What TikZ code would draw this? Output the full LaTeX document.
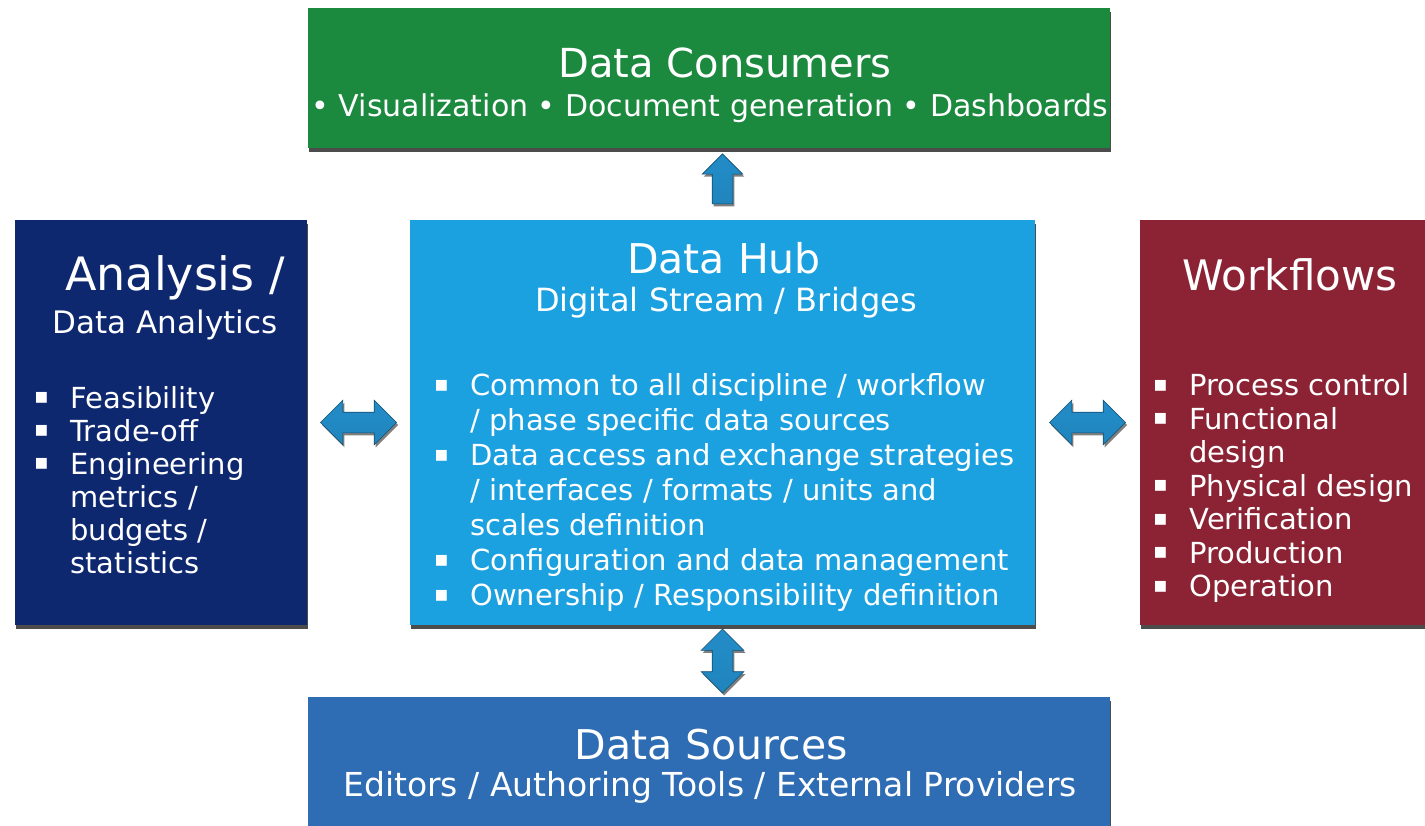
\documentclass[tikz,border=0pt]{standalone}
\usepackage{fontspec}
\setmainfont{DejaVu Sans}
\usepackage{graphicx}
\usetikzlibrary{calc,shapes.arrows,shadows}

\definecolor{consgreen}{RGB}{27,137,62}
\definecolor{hubblue}{RGB}{27,160,224}
\definecolor{ananavy}{RGB}{14,40,112}
\definecolor{wfred}{RGB}{139,35,52}
\definecolor{srcblue}{RGB}{46,108,180}
\definecolor{flowblue}{RGB}{38,156,222}

\newcommand{\bul}{\raisebox{0.15em}{\scalebox{0.75}{▪}}}
\newcommand{\itemlist}[1]{\begin{tabular}{@{}p{1.25em}@{}l@{}}#1\end{tabular}}

\begin{document}
\begin{tikzpicture}[x=1pt,y=-1pt]
        \useasboundingbox (0,0) rectangle (1425,826);
        \tikzstyle{panel}=[rectangle,inner sep=0pt,drop shadow={shadow xshift=1pt,shadow yshift=-4pt,opacity=0.7,fill=black}]
        \tikzstyle{caption}=[inner sep=0pt,text=white,align=center]
        \tikzstyle{items}=[inner sep=0pt,text=white,anchor=north west,font=\fontsize{29}{35}\selectfont]
        \tikzstyle{flow}=[top color=flowblue!90!black,middle color=flowblue!65!white,bottom color=flowblue!85!black,draw=flowblue!50!black,line width=0.6pt,inner xsep=0pt,inner ysep=10pt,drop shadow={shadow xshift=1.5pt,shadow yshift=-2.5pt,opacity=0.5,fill=black}]

        % the five panels
        \node[panel,fill=consgreen,minimum width=802,minimum height=140] (cons) at (709,78) {};
        \node[panel,fill=ananavy,minimum width=292,minimum height=405] (ana) at (161,422.5) {};
        \node[panel,fill=hubblue,minimum width=625,minimum height=405] (hub) at (722.5,422.5) {};
        \node[panel,fill=wfred,minimum width=300,minimum height=405] (wf) at (1290,422.5) {};
        \node[panel,fill=srcblue,minimum width=802,minimum height=150] (src) at (709,772) {};

        % titles
        \node[caption,font=\fontsize{40}{48}\selectfont] (cons_t) at (725,63) {Data Consumers};
        \node[caption,font=\fontsize{30}{36}\selectfont] (cons_s) at (710,108) {• Visualization • Document generation • Dashboards};
        \node[caption,font=\fontsize{41}{48}\selectfont] (hub_t) at (724,258) {Data Hub};
        \node[caption,font=\fontsize{32}{38}\selectfont] (hub_s) at (726,303) {Digital Stream / Bridges};
        \node[caption,font=\fontsize{41}{48}\selectfont] (src_t) at (711,745) {Data Sources};
        \node[caption,font=\fontsize{33}{40}\selectfont] (src_s) at (710,787) {Editors / Authoring Tools / External Providers};
        \node[caption,font=\fontsize{46}{54}\selectfont] (ana_t) at (175,278) {Analysis /};
        \node[caption,font=\fontsize{31}{38}\selectfont] (ana_s) at (165,325) {Data Analytics};
        \node[caption,font=\fontsize{42}{50}\selectfont] (wf_t) at (1290,275) {Workflows};

        % bullet lists
        \node[items] (hub_l) at (434,371) {\itemlist{
            \bul & Common to all discipline / workflow\\
                 & / phase specific data sources\\
            \bul & Data access and exchange strategies\\
                 & / interfaces / formats / units and\\
                 & scales definition\\
            \bul & Configuration and data management\\
            \bul & Ownership / Responsibility definition}};
        \node[items,font=\fontsize{29}{33}\selectfont] (ana_l) at (34,385) {\itemlist{
            \bul & Feasibility\\
            \bul & Trade-off\\
            \bul & Engineering\\
                 & metrics /\\
                 & budgets /\\
                 & statistics}};
        \node[items,font=\fontsize{29}{33.5}\selectfont] (wf_l) at (1153,372) {\itemlist{
            \bul & Process control\\
            \bul & Functional\\
                 & design\\
            \bul & Physical design\\
            \bul & Verification\\
            \bul & Production\\
            \bul & Operation}};

        % block arrows between panels
        \node[flow,single arrow,rotate=90,minimum height=50,single arrow head extend=10] (up) at ($(hub.north)!0.5!(cons.south -| hub.north)$) {};
        \foreach \a/\b in {ana/hub,hub/wf} {
            \node[flow,double arrow,minimum height=76,double arrow head extend=12] (lr_\a) at ($(\a.east)!0.5!(\b.west)$) {};
        }
        \node[flow,double arrow,rotate=90,minimum height=64,double arrow head extend=11] (ud) at ($(hub.south)!0.5!(src.north -| hub.south)$) {};
\end{tikzpicture}
\end{document}
